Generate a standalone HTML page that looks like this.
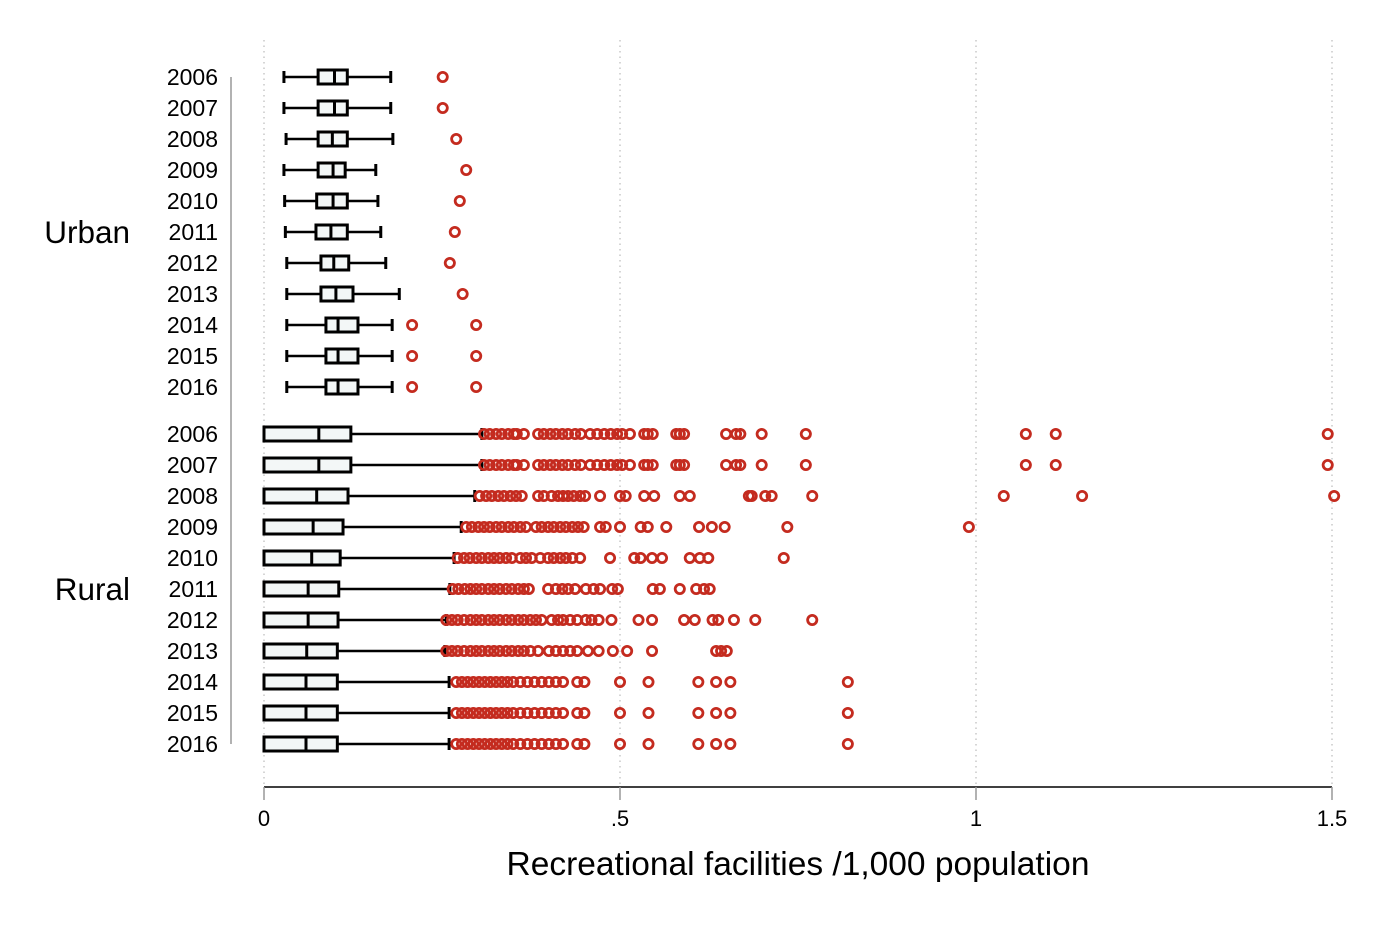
<!DOCTYPE html>
<html><head><meta charset="utf-8"><style>
body{margin:0;background:#fff}
svg{display:block;font-family:"Liberation Sans",Arial,sans-serif}
</style></head><body>
<svg id="chart" width="1400" height="934" viewBox="0 0 1400 934" xmlns="http://www.w3.org/2000/svg"></svg>
<script>
const years = ["2006","2007","2008","2009","2010","2011","2012","2013","2014","2015","2016"];
const groups = ["Urban","Rural"];
const xTicks = [0,0.5,1,1.5];
const xTickLabels = ["0",".5","1","1.5"];
// [lowWhisker, q1, median, q3, highWhisker]
const urbanStats = [
 [0.028,0.076,0.099,0.117,0.178],[0.028,0.076,0.099,0.117,0.178],[0.031,0.076,0.096,0.117,0.181],
 [0.028,0.076,0.097,0.114,0.157],[0.029,0.074,0.097,0.117,0.160],[0.030,0.073,0.094,0.117,0.164],
 [0.032,0.080,0.098,0.119,0.171],[0.032,0.080,0.101,0.125,0.190],[0.032,0.087,0.104,0.132,0.180],
 [0.032,0.087,0.104,0.132,0.180],[0.032,0.087,0.104,0.132,0.180]];
const urbanOutliers = [[0.251],[0.251],[0.270],[0.284],[0.275],[0.268],[0.261],[0.279],[0.208,0.298],[0.208,0.298],[0.208,0.298]];
const ruralStats = [
 [0,0,0.077,0.122,0.306],[0,0,0.077,0.122,0.306],[0,0,0.074,0.118,0.296],
 [0,0,0.069,0.111,0.277],[0,0,0.067,0.107,0.267],[0,0,0.062,0.105,0.261],
 [0,0,0.062,0.104,0.256],[0,0,0.060,0.103,0.254],[0,0,0.059,0.103,0.260],
 [0,0,0.059,0.103,0.260],[0,0,0.059,0.103,0.260]];
const r06 = [.309,.317,.326,.334,.343,.351,.355,.365,.385,.393,.402,.410,.419,.427,.437,.445,.458,.468,.478,.487,.496,.503,.514,.534,.539,.546,.579,.584,.590,.649,.663,.669,.699,.761,1.070,1.112,1.494];
const r08 = [.303,.312,.320,.329,.337,.346,.354,.362,.385,.393,.404,.413,.420,.427,.435,.444,.451,.472,.500,.508,.534,.548,.584,.598,.681,.685,.704,.713,.770,1.039,1.149,1.503];
const r09 = [.284,.292,.301,.309,.317,.326,.334,.343,.351,.360,.368,.382,.390,.399,.407,.416,.424,.433,.441,.449,.472,.480,.500,.529,.539,.565,.611,.629,.647,.735,.990];
const r10 = [.272,.281,.289,.298,.306,.315,.323,.331,.340,.348,.360,.368,.376,.388,.399,.407,.416,.424,.433,.444,.486,.520,.529,.545,.559,.598,.612,.624,.730];
const r11 = [.265,.273,.282,.290,.298,.306,.315,.323,.331,.340,.348,.357,.365,.372,.399,.410,.419,.427,.437,.452,.463,.472,.489,.497,.546,.556,.584,.607,.618,.626];
const r12 = [.256,.264,.272,.281,.290,.298,.306,.315,.323,.331,.340,.348,.357,.365,.374,.382,.390,.404,.413,.420,.430,.440,.452,.460,.470,.488,.526,.545,.590,.605,.630,.638,.660,.690,.770];
const r13 = [.256,.264,.272,.281,.290,.298,.306,.315,.323,.331,.340,.348,.357,.365,.374,.385,.400,.410,.420,.430,.440,.455,.470,.490,.510,.545,.635,.642,.650];
const r14 = [.270,.278,.286,.294,.302,.310,.318,.326,.334,.342,.350,.360,.370,.380,.390,.400,.410,.420,.440,.450,.500,.540,.610,.635,.655,.820];
const ruralOutliers = [r06,r06,r08,r09,r10,r11,r12,r13,r14,r14,r14];

const svg = document.getElementById('chart');
const NS = "http://www.w3.org/2000/svg";
const x0 = 264, x1 = 1332, vMax = 1.5;
const xs = v => x0 + (x1 - x0) * v / vMax;
const uy = i => 77 + i * 31;
const ry = i => 434 + i * 31;
function mk(tag, attrs, parent){const e=document.createElementNS(NS,tag);for(const k in attrs)e.setAttribute(k,attrs[k]);(parent||svg).appendChild(e);return e;}

xTicks.forEach((t,i)=>{
  const g = mk('line',{x1:xs(t),x2:xs(t),y1:40,y2:787,stroke:'#bbb','stroke-width':1.2,'stroke-dasharray':'1.5,4'});
  
  
});
const ax = mk('line',{x1:x0,x2:x1,y1:787,y2:787,stroke:'#000','stroke-width':1.5});


xTicks.forEach((t,i)=>{
  const tk = mk('line',{x1:xs(t),x2:xs(t),y1:787,y2:800,stroke:'#999','stroke-width':1.5});
  
  
  const tl = mk('text',{x:xs(t),y:826,'text-anchor':'middle','font-size':22});
  tl.textContent = xTickLabels[i];
  
  
});
const title = mk('text',{x:798,y:875,'text-anchor':'middle','font-size':33.5});
title.textContent = 'Recreational facilities /1,000 population';



const yl = mk('line',{x1:231,x2:231,y1:77,y2:744,stroke:'#999','stroke-width':1.5});



function drawGroup(stats, outs, yf, gname){
  stats.forEach((s,i)=>{
    const y = yf(i);
    const lab = mk('text',{x:218,y:y+8,'text-anchor':'end','font-size':23});
    lab.textContent = years[i];
    
    
    const g = mk('g',{});
    
    
    mk('line',{x1:xs(s[0]),x2:xs(s[1]),y1:y,y2:y,stroke:'#000','stroke-width':2.5},g);
    mk('line',{x1:xs(s[3]),x2:xs(s[4]),y1:y,y2:y,stroke:'#000','stroke-width':2.5},g);
    if(s[0]>0) mk('line',{x1:xs(s[0]),x2:xs(s[0]),y1:y-6,y2:y+6,stroke:'#000','stroke-width':3},g);
    mk('line',{x1:xs(s[4]),x2:xs(s[4]),y1:y-6,y2:y+6,stroke:'#000','stroke-width':3},g);
    mk('rect',{x:xs(s[1]),y:y-7,width:xs(s[3])-xs(s[1]),height:14,fill:'#f3f7f7',stroke:'#000','stroke-width':3},g);
    mk('line',{x1:xs(s[2]),x2:xs(s[2]),y1:y-7,y2:y+7,stroke:'#000','stroke-width':3},g);
    outs[i].forEach(v=>{
      const c = mk('circle',{cx:xs(v),cy:y,r:4.6,fill:'none',stroke:'#c42b1f','stroke-width':2.8});
      
      
    });
  });
  const gl = mk('text',{x:130,y:yf(5)+11,'text-anchor':'end','font-size':31.5});
  gl.textContent = gname==='urban'?groups[0]:groups[1];
  
  
}
drawGroup(urbanStats, urbanOutliers, uy, 'urban');
drawGroup(ruralStats, ruralOutliers, ry, 'rural');
</script>
</body></html>
